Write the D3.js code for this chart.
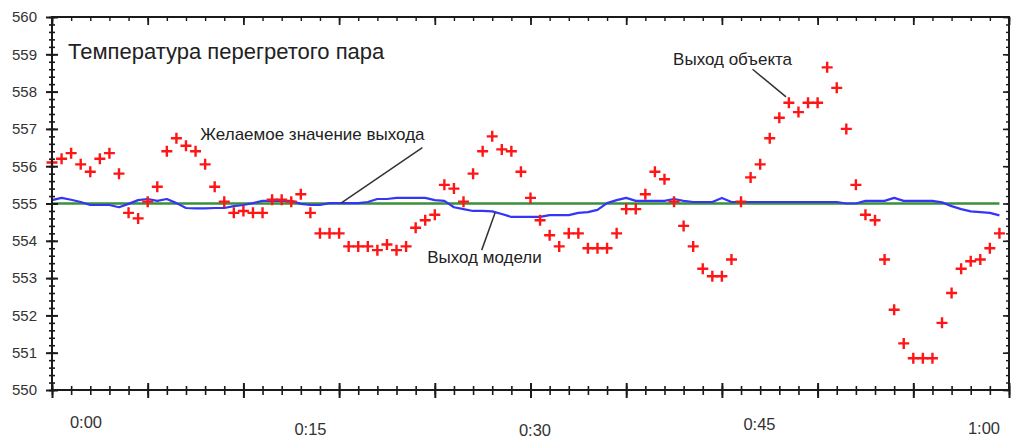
<!DOCTYPE html>
<html>
<head>
<meta charset="utf-8">
<script src="https://cdn.jsdelivr.net/npm/d3@7"></script>
<style>
  html, body { margin: 0; padding: 0; background: #fff; }
  svg { display: block; font-family: "Liberation Sans", Arial, sans-serif; }
</style>
</head>
<body>
<svg id="chart" width="1012" height="439"></svg>
<script>
// --- data ---
// one sample every 36 s, 100 samples over the hour
const objectOutput = [
  556.1, 556.2, 556.35, 556.05, 555.85, 556.2, 556.35, 555.8, 554.75, 554.6,
  555.05, 555.45, 556.4, 556.75, 556.55, 556.4, 556.05, 555.45, 555.05, 554.75,
  554.8, 554.75, 554.75, 555.1, 555.1, 555.05, 555.25, 554.75, 554.2, 554.2,
  554.2, 553.85, 553.85, 553.85, 553.75, 553.9, 553.75, 553.85, 554.35, 554.55,
  554.7, 555.5, 555.4, 555.05, 555.8, 556.4, 556.8, 556.45, 556.4, 555.85,
  555.15, 554.55, 554.15, 553.85, 554.2, 554.2, 553.8, 553.8, 553.8, 554.2,
  554.85, 554.85, 555.25, 555.85, 555.65, 555.05, 554.4, 553.85, 553.25, 553.05,
  553.05, 553.5, 555.05, 555.7, 556.05, 556.75, 557.3, 557.7, 557.45, 557.7,
  557.7, 558.65, 558.1, 557.0, 555.5, 554.7, 554.55, 553.5, 552.15, 551.25,
  550.85, 550.85, 550.85, 551.8, 552.6, 553.25, 553.45, 553.5, 553.8, 554.2
];

const modelOutput = [
  555.09, 555.15, 555.1, 555.04, 554.96, 554.96, 554.96, 554.9, 554.99, 555.09,
  555.12, 555.07, 555.12, 555.01, 554.88, 554.87, 554.87, 554.88, 554.88, 554.93,
  554.96, 555.01, 555.07, 555.07, 555.07, 555.07, 554.99, 554.96, 554.96, 555.01,
  555.01, 555.01, 555.01, 555.04, 555.12, 555.12, 555.15, 555.15, 555.15, 555.15,
  555.09, 555.07, 554.9, 554.85, 554.8, 554.8, 554.79, 554.72, 554.64, 554.64,
  554.64, 554.64, 554.69, 554.69, 554.69, 554.75, 554.77, 554.83, 555.01, 555.09,
  555.15, 555.07, 555.07, 555.07, 555.07, 555.12, 555.07, 555.04, 555.04, 555.04,
  555.15, 555.04, 555.04, 555.04, 555.04, 555.04, 555.04, 555.04, 555.04, 555.04,
  555.04, 555.04, 555.04, 555.0, 555.0, 555.07, 555.07, 555.07, 555.15, 555.07,
  555.07, 555.07, 555.07, 555.03, 554.93, 554.85, 554.79, 554.77, 554.75, 554.68
];

const setpoint = 555;

const yTicks = d3.range(550, 561);
const timeMinutes = [0, 15, 30, 45, 60];
const timeLabels = ['0:00', '0:15', '0:30', '0:45', '1:00'];

const title = 'Температура перегретого пара';
const notes = [
  { text: 'Желаемое значение выхода', at: [15.5, 556.7], from: [38.7, 556.5], to: [30.2, 555.01] },
  { text: 'Выход модели', at: [39.2, 553.4], from: [46.3, 554.75], to: [44.9, 553.75] },
  { text: 'Выход объекта', at: [64.9, 558.71], from: [73.2, 558.6], to: [76.7, 557.86] }
];

// --- layout ---
const svg = d3.select('#chart');
const plotLeft = 52, plotRight = 1009, plotTop = 17, plotBottom = 390;
const labelDy = [422, 428.5, 430, 424, 428];   // the time labels sit at uneven heights

const x = d3.scaleLinear().domain([0, 100]).range([plotLeft, plotRight]);
const y = d3.scaleLinear().domain([550, 560]).range([plotBottom, plotTop]);
const tx = d3.scaleLinear().domain([0, 60]).range([86, 984]);

const ink = '#1a1a1a';

// setpoint line
svg.append('line')
  .attr('x1', x(0)).attr('x2', x(objectOutput.length - 1))
  .attr('y1', y(setpoint)).attr('y2', y(setpoint))
  .attr('stroke', '#3a8f3a').attr('stroke-width', 2.4);

// model output
const line = d3.line().x((d, i) => x(i)).y(d => y(d));
svg.append('path')
  .datum(modelOutput)
  .attr('d', line)
  .attr('fill', 'none')
  .attr('stroke', '#3535f5')
  .attr('stroke-width', 2.2)
  .attr('stroke-linejoin', 'round');

// object output, red plus signs
svg.append('g')
  .selectAll('path')
  .data(objectOutput)
  .join('path')
  .attr('transform', (d, i) => `translate(${x(i)},${y(d)})`)
  .attr('d', 'M-5.5,0H5.5M0,-5.5V5.5')
  .attr('stroke', '#ff1515')
  .attr('stroke-width', 2.4)
  .attr('fill', 'none');

// left axis: majors with labels, minors every 0.2
const minorY = d3.range(550, 560.01, 0.2).map(v => +v.toFixed(1));

svg.append('g')
  .attr('transform', `translate(${plotLeft},0)`)
  .call(d3.axisLeft(y).tickValues(minorY).tickSize(3).tickFormat(''))
  .call(g => g.select('.domain').remove())
  .call(g => g.selectAll('line').attr('x1', 3).attr('stroke', ink).attr('stroke-width', 1.6));

svg.append('g')
  .attr('transform', `translate(${plotLeft},0)`)
  .call(d3.axisLeft(y).tickValues(yTicks).tickSize(6).tickPadding(9).tickFormat(d3.format('d')))
  .call(g => g.select('.domain').remove())
  .call(g => g.selectAll('line').attr('x1', 6).attr('stroke', ink).attr('stroke-width', 2))
  .call(g => g.selectAll('text')
    .attr('fill', '#333')
    .style('font-family', '"Liberation Sans", Arial, sans-serif')
    .style('font-size', '15px'));

// right edge ticks (inward)
svg.append('g')
  .attr('transform', `translate(${plotRight},0)`)
  .call(d3.axisLeft(y).tickValues(minorY).tickSize(3).tickFormat(''))
  .call(g => g.select('.domain').remove())
  .call(g => g.selectAll('line').attr('stroke', ink).attr('stroke-width', 1.4));
svg.append('g')
  .attr('transform', `translate(${plotRight},0)`)
  .call(d3.axisLeft(y).tickValues(yTicks).tickSize(6).tickFormat(''))
  .call(g => g.select('.domain').remove())
  .call(g => g.selectAll('line').attr('stroke', ink).attr('stroke-width', 1.6));

// bottom axis ticks (crossing the line)
const minorX = d3.range(0, 101, 2);
const majorX = d3.range(0, 101, 10);

svg.append('g')
  .attr('transform', `translate(0,${plotBottom})`)
  .call(d3.axisBottom(x).tickValues(minorX).tickSize(5).tickFormat(''))
  .call(g => g.select('.domain').remove())
  .call(g => g.selectAll('line').attr('y1', -4).attr('stroke', ink).attr('stroke-width', 1.6));
svg.append('g')
  .attr('transform', `translate(0,${plotBottom})`)
  .call(d3.axisBottom(x).tickValues(majorX).tickSize(8).tickFormat(''))
  .call(g => g.select('.domain').remove())
  .call(g => g.selectAll('line').attr('y1', -7).attr('stroke', ink).attr('stroke-width', 2));

// top edge ticks (inward)
svg.append('g')
  .attr('transform', `translate(0,${plotTop})`)
  .call(d3.axisBottom(x).tickValues(minorX).tickSize(4).tickFormat(''))
  .call(g => g.select('.domain').remove())
  .call(g => g.selectAll('line').attr('stroke', ink).attr('stroke-width', 1.4));
svg.append('g')
  .attr('transform', `translate(0,${plotTop})`)
  .call(d3.axisBottom(x).tickValues(majorX).tickSize(8).tickFormat(''))
  .call(g => g.select('.domain').remove())
  .call(g => g.selectAll('line').attr('stroke', ink).attr('stroke-width', 1.8));

// frame
svg.append('rect')
  .attr('x', plotLeft).attr('y', plotTop)
  .attr('width', plotRight - plotLeft).attr('height', plotBottom - plotTop)
  .attr('fill', 'none').attr('stroke', ink).attr('stroke-width', 2);

// time labels
svg.append('g')
  .selectAll('text')
  .data(timeMinutes)
  .join('text')
  .attr('x', d => tx(d))
  .attr('y', (d, i) => labelDy[i] + 6)
  .attr('text-anchor', 'middle')
  .attr('fill', '#333')
  .style('font-size', '16.5px')
  .text((d, i) => timeLabels[i]);

// title
svg.append('text')
  .attr('x', 68).attr('y', 59)
  .attr('fill', '#222')
  .style('font-size', '22px')
  .text(title);

// annotations with leader lines
const ann = svg.append('g');
ann.selectAll('line')
  .data(notes)
  .join('line')
  .attr('x1', d => x(d.from[0])).attr('y1', d => y(d.from[1]))
  .attr('x2', d => x(d.to[0])).attr('y2', d => y(d.to[1]))
  .attr('stroke', '#333').attr('stroke-width', 1.5);
ann.selectAll('text')
  .data(notes)
  .join('text')
  .attr('x', d => x(d.at[0])).attr('y', d => y(d.at[1]))
  .attr('fill', '#222')
  .style('font-size', '17px')
  .text(d => d.text);
</script>
</body>
</html>
